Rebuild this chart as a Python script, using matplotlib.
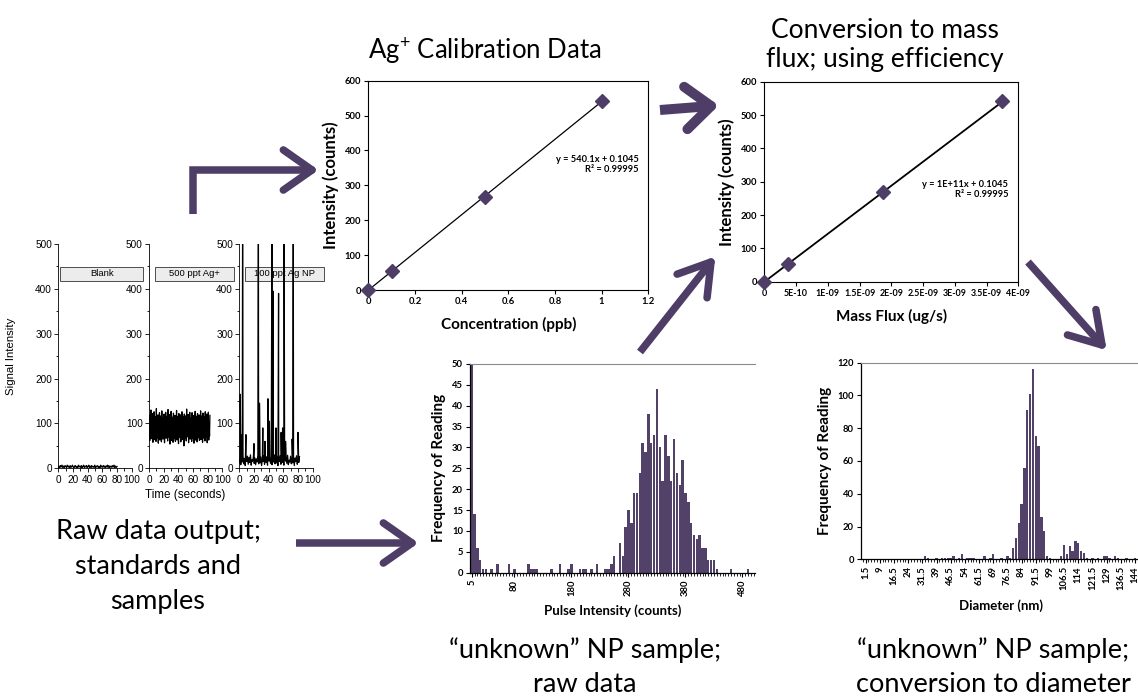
import numpy as np
import matplotlib
matplotlib.use("Agg")
import matplotlib.pyplot as plt
from matplotlib.lines import Line2D
from matplotlib.patches import Rectangle

# ==========================
# DATA
# ==========================
# raw ICP-MS traces (signal vs time)
blank_signal = [2, 5, 1, 6, 3, 7, 2, 5, 1, 6, 4, 2, 7, 3, 5, 1, 6, 2, 4, 7,
                3, 1, 5, 6, 2, 4, 1, 7, 3, 5, 2, 6, 1, 4, 7, 2, 5, 3, 6, 1,
                4, 7, 2, 5, 1, 6, 3, 4, 2, 7, 1, 5, 3, 6, 2, 4, 1, 7, 3, 5,
                2, 6, 4, 1, 5, 3, 7, 2, 6, 1, 4, 5, 2, 6, 3, 7, 1, 5, 2, 4]
ag_ion_signal = [70, 118, 62, 105, 85, 130, 66, 99, 74, 122, 58, 110, 80, 126, 64, 97, 72, 115, 60, 133,
                 77, 102, 68, 119, 56, 108, 83, 124, 63, 95, 71, 117, 59, 128, 76, 101, 65, 113, 81, 121,
                 57, 106, 73, 125, 67, 98, 79, 116, 61, 131, 75, 104, 69, 120, 54, 111, 82, 127, 62, 96,
                 70, 114, 58, 123, 78, 100, 66, 118, 60, 109, 84, 129, 63, 97, 72, 116, 55, 122, 80, 103,
                 68, 119, 59, 112, 76, 126, 64, 99, 73, 115, 50, 121, 81, 105, 67, 117, 61, 132, 74, 102,
                 70, 120, 57, 108, 83, 125, 65, 98, 72, 114, 60, 124, 77, 101, 66, 118, 56, 110, 82, 127,
                 63, 96, 71, 116, 59, 122, 79, 104, 68, 119, 62, 111, 75, 128, 64, 100, 73, 117, 58, 123,
                 80, 106, 67, 115, 61, 126, 76, 99, 69, 121, 57, 113, 84, 125, 63, 97, 72, 118]
np_baseline = [12, 25, 8, 20, 14, 28, 10, 22, 6, 18, 15, 27, 9, 24, 13, 30, 7, 19, 16, 26,
               11, 23, 8, 21, 14, 29, 10, 17, 12, 25, 6, 20, 15, 28, 9, 22, 13, 26, 7, 18,
               16, 24, 11, 27, 8, 21, 14, 30, 10, 19, 12, 25, 6, 23, 15, 28, 9, 20, 13, 26,
               7, 22, 16, 24, 11, 29, 8, 18, 14, 27, 10, 21, 12, 25, 6, 23, 15, 28, 9, 20, 13, 26]
np_spike_times = [1.3, 2.2, 4.5, 9, 20, 26, 27.5, 32, 35, 39, 41, 44.5, 46, 50, 53.5, 57, 59, 61, 63, 72, 73.5, 80]
np_spike_heights = [165, 75, 600, 75, 55, 600, 145, 90, 60, 155, 105, 600, 395, 90, 390, 80, 90, 600, 60, 65, 600, 80]
raw_titles = ["Blank", "500 ppt Ag+", "100 ppt Ag NP"]

# calibration
conc_ppb = [0, 0.1, 0.5, 1.0]
intensity_counts = [0, 54, 268, 541]
mass_flux = [0, 3.75e-10, 1.875e-9, 3.75e-9]
mass_flux_ticks = [0, 5e-10, 1e-9, 1.5e-9, 2e-9, 2.5e-9, 3e-9, 3.5e-9, 4e-9]
mass_flux_labels = ["0", "5E-10", "1E-09", "1.5E-09", "2E-09", "2.5E-09", "3E-09", "3.5E-09", "4E-09"]

# pulse intensity histogram (bins of 5 counts)
pulse_bins = np.arange(5, 505, 5)
pulse_freq = [62, 14, 6, 3, 1, 1, 0, 1, 0, 2,
              0, 0, 0, 2, 0, 1, 0, 0, 0, 0,
              2, 1, 1, 1, 0, 0, 0, 0, 1, 0,
              0, 2, 0, 0, 1, 2, 0, 0, 1, 1,
              1, 0, 1, 0, 2, 0, 0, 1, 1, 2,
              4, 0, 7, 4, 11, 15, 12, 19, 19, 24,
              31, 29, 38, 31, 33, 44, 30, 22, 33, 28,
              22, 32, 24, 21, 27, 19, 17, 12, 9, 8,
              9, 6, 6, 3, 3, 3, 1, 0, 0, 0,
              0, 1, 0, 0, 0, 0, 0, 1, 0, 0]
pulse_label_idx = [0, 15, 35, 55, 75, 95]

# diameter histogram (bins of 1.5 nm)
diam_bins = np.arange(0, 147, 1.5)
diam_freq = [0, 0, 0, 0, 0, 0, 0, 0, 0, 0,
             0, 0, 0, 0, 0, 0, 0, 0, 0, 0,
             0, 0, 2, 1, 0, 0, 1, 0, 1, 1,
             1, 1, 2, 0, 1, 3, 0, 1, 1, 1,
             0, 0, 0, 2, 0, 1, 3, 0, 0, 1,
             0, 2, 1, 7, 13, 22, 34, 56, 91, 101,
             116, 75, 69, 26, 17, 2, 1, 0, 0, 0,
             2, 9, 3, 8, 5, 11, 10, 5, 4, 1,
             0, 1, 0, 1, 0, 2, 2, 1, 0, 2,
             1, 0, 0, 1, 0, 0, 1, 0]
diam_label_idx = list(range(1, 97, 5))

# ==========================
# STYLE
# ==========================
W, H = 1138, 698
PURPLE = "#4e3d66"
BAR = "#524169"
plt.rcParams["font.family"] = ["Lato", "DejaVu Sans"]
plt.rcParams["mathtext.fontset"] = "custom"
plt.rcParams["mathtext.rm"] = "Lato"
ARIAL = ["Liberation Sans", "DejaVu Sans"]
CAPTION = 19.5

fig = plt.figure(figsize=(W / 100, H / 100), dpi=100)


def box(l, t, r, b):
    return [l / W, 1 - b / H, (r - l) / W, (b - t) / H]


def arrow(pts, lw_px=7.5, head_px=35, head_deg=35):
    xs = [p[0] / W for p in pts]
    ys = [1 - p[1] / H for p in pts]
    fig.add_artist(Line2D(xs, ys, lw=lw_px * 0.72, color=PURPLE,
                          solid_capstyle="butt", solid_joinstyle="miter"))
    (x0, y0), (x1, y1) = pts[-2], pts[-1]
    ang = np.arctan2(y1 - y0, x1 - x0)
    for s in (1, -1):
        a = ang + np.pi + s * np.radians(head_deg)
        hx, hy = x1 + head_px * np.cos(a), y1 + head_px * np.sin(a)
        fig.add_artist(Line2D([hx / W, x1 / W], [1 - hy / H, 1 - y1 / H],
                              lw=lw_px * 0.72, color=PURPLE, solid_capstyle="round"))


# ==========================
# RAW DATA PANELS
# ==========================
lefts = [58.3, 149.0, 239.3]
np_t = list(np.linspace(0, 82, len(np_baseline))) + np_spike_times
np_v = list(np_baseline) + np_spike_heights
order = np.argsort(np_t)
traces = [
    (np.linspace(0, 80, len(blank_signal)), blank_signal),
    (np.linspace(0, 83, len(ag_ion_signal)), ag_ion_signal),
    (np.array(np_t)[order], np.array(np_v)[order]),
]
for i, (l, (t, v)) in enumerate(zip(lefts, traces)):
    ax = fig.add_axes(box(l, 244, l + 73.4, 468.3))
    ax.plot(t, v, color="black", lw=0.9, zorder=3)
    ax.set_xlim(0, 100)
    ax.set_ylim(0, 500)
    ax.set_xticks([0, 20, 40, 60, 80, 100])
    ax.set_xticks([10, 30, 50, 70, 90], minor=True)
    ax.set_yticks([0, 100, 200, 300, 400, 500])
    ax.set_yticks([50, 150, 250, 350, 450], minor=True)
    ax.tick_params(labelsize=7.2, length=3, width=0.6, pad=1.5)
    ax.tick_params(which="minor", length=1.8, width=0.6)
    for lab in ax.get_xticklabels() + ax.get_yticklabels():
        lab.set_family(ARIAL)
    ax.spines[["top", "right"]].set_visible(False)
    ax.spines[["left", "bottom"]].set_linewidth(0.6)
    ax.patch.set_alpha(0)
    tr = ax.get_yaxis_transform()
    x0 = 0.02 if i == 0 else 0.08
    ax.add_patch(Rectangle((x0, 418), 1.16 - x0, 31, transform=tr, clip_on=False,
                           fc="#ececec", ec="#333333", lw=0.6, zorder=1))
    ax.text((x0 + 1.16) / 2, 433.5, raw_titles[i], transform=tr, ha="center", va="center",
            fontsize=6.8, family=ARIAL, zorder=2)
    if i == 0:
        ax.set_ylabel("Signal Intensity", family=ARIAL, fontsize=8.2, labelpad=14)

fig.text(185 / W, 1 - 495 / H, "Time (seconds)", family=ARIAL, fontsize=8.4,
         ha="center", va="center")


def excel_axes(ax):
    for s in ax.spines.values():
        s.set_linewidth(0.8)
    ax.tick_params(labelsize=6.8, length=3, width=0.8, pad=2)
    for lab in ax.get_xticklabels() + ax.get_yticklabels():
        lab.set_fontweight("bold")


# ==========================
# CALIBRATION
# ==========================
ax = fig.add_axes(box(368.3, 80.7, 648.3, 290))
slope, icpt = np.polyfit(conc_ppb, intensity_counts, 1)
xf = np.array([conc_ppb[0], conc_ppb[-1]])
ax.plot(xf, slope * xf + icpt, color="black", lw=0.9)
ax.plot(conc_ppb, intensity_counts, "D", color=PURPLE, ms=7, clip_on=False, zorder=3)
ax.set_xlim(0, 1.2)
ax.set_ylim(0, 600)
ax.set_xticks([0, 0.2, 0.4, 0.6, 0.8, 1, 1.2])
ax.set_xticklabels(["0", "0.2", "0.4", "0.6", "0.8", "1", "1.2"])
ax.set_yticks(range(0, 700, 100))
excel_axes(ax)
ax.set_xlabel("Concentration (ppb)", fontsize=11, fontweight="bold", labelpad=8)
ax.set_ylabel("Intensity (counts)", fontsize=12, fontweight="bold", labelpad=4)
ax.text(0.965, 0.60, "y = 540.1x + 0.1045\nR² = 0.99995", transform=ax.transAxes,
        ha="right", va="center", fontsize=6.7, fontweight="bold", multialignment="right")
fig.text(485 / W, 1 - 50 / H, r"Ag$^{+}$ Calibration Data", fontsize=18.5, ha="center", va="center")

# ==========================
# MASS FLUX
# ==========================
ax = fig.add_axes(box(764.3, 81.7, 1018.3, 281.7))
slope, icpt = np.polyfit(mass_flux, intensity_counts, 1)
xf = np.array([mass_flux[0], mass_flux[-1]])
ax.plot(xf, slope * xf + icpt, color="black", lw=1.3)
ax.plot(mass_flux, intensity_counts, "D", color=PURPLE, ms=7, clip_on=False, zorder=3)
ax.set_xlim(0, 4e-9)
ax.set_ylim(0, 600)
ax.set_xticks(mass_flux_ticks)
ax.set_xticklabels(mass_flux_labels)
ax.set_yticks(range(0, 700, 100))
excel_axes(ax)
ax.tick_params(axis="x", labelsize=6.4)
ax.set_xlabel("Mass Flux (ug/s)", fontsize=11, fontweight="bold", labelpad=8)
ax.set_ylabel("Intensity (counts)", fontsize=12, fontweight="bold", labelpad=4)
ax.text(0.96, 0.46, "y = 1E+11x + 0.1045\nR² = 0.99995", transform=ax.transAxes,
        ha="right", va="center", fontsize=6.7, fontweight="bold", multialignment="right")
fig.text(885 / W, 1 - 45 / H, "Conversion to mass\nflux; using efficiency", fontsize=19,
         ha="center", va="center", linespacing=1.22)


def hist_axes(ax, n):
    ax.spines["right"].set_visible(False)
    ax.spines["top"].set_color("#8a8a8a")
    ax.spines["top"].set_linewidth(0.8)
    ax.spines[["left", "bottom"]].set_linewidth(0.9)
    ax.set_xticks(range(n), minor=True)
    ax.tick_params(labelsize=6.8, length=3, width=0.8, pad=2)
    ax.tick_params(which="minor", length=2.5, width=0.6)
    for lab in ax.get_xticklabels() + ax.get_yticklabels():
        lab.set_fontweight("bold")
    for lab in ax.get_xticklabels():
        lab.set_rotation(90)


# ==========================
# PULSE HISTOGRAM
# ==========================
ax = fig.add_axes(box(470, 364, 755, 572.7))
idx = np.arange(len(pulse_freq))
ax.bar(idx, pulse_freq, width=0.85, color=BAR, linewidth=0)
ax.set_xlim(-0.6, 99.4)
ax.set_ylim(0, 50)
ax.set_yticks(range(0, 55, 5))
ax.set_xticks(pulse_label_idx)
ax.set_xticklabels([f"{pulse_bins[k]:g}" for k in pulse_label_idx])
hist_axes(ax, len(pulse_freq))
ax.set_xlabel("Pulse Intensity (counts)", fontsize=9.5, fontweight="bold", labelpad=6)
ax.set_ylabel("Frequency of Reading", fontsize=11, fontweight="bold", labelpad=4)
fig.text(585 / W, 1 - 667 / H, "\u201cunknown\u201d NP sample;\nraw data", fontsize=CAPTION,
         ha="center", va="center", linespacing=1.45)

# ==========================
# DIAMETER HISTOGRAM
# ==========================
ax = fig.add_axes(box(860.7, 362.7, 1142, 559.3))
idx = np.arange(len(diam_freq))
ax.bar(idx, diam_freq, width=0.85, color=BAR, linewidth=0)
ax.set_xlim(-0.75, 98.5)
ax.set_ylim(0, 120)
ax.set_yticks(range(0, 140, 20))
ax.set_xticks(diam_label_idx)
ax.set_xticklabels([f"{diam_bins[k]:g}" for k in diam_label_idx])
hist_axes(ax, len(diam_freq))
ax.set_xlabel("Diameter (nm)", fontsize=9.5, fontweight="bold", labelpad=6)
ax.set_ylabel("Frequency of Reading", fontsize=11, fontweight="bold", labelpad=4)
fig.text(993 / W, 1 - 667 / H, "\u201cunknown\u201d NP sample;\nconversion to diameter", fontsize=CAPTION,
         ha="center", va="center", linespacing=1.45)

fig.text(158 / W, 1 - 567 / H, "Raw data output;\nstandards and\nsamples", fontsize=CAPTION,
         ha="center", va="center", linespacing=1.5)

# ==========================
# ARROWS
# ==========================
arrow([(193, 214), (193, 170), (312, 170)])
arrow([(296, 543), (412, 543)])
arrow([(660, 110), (711, 106)], lw_px=10, head_px=33, head_deg=40)
arrow([(640, 352), (711, 262)], head_px=36, head_deg=32)
arrow([(1028, 262), (1102, 345)], head_px=36, head_deg=32)

fig.savefig("out.png", dpi=100)
